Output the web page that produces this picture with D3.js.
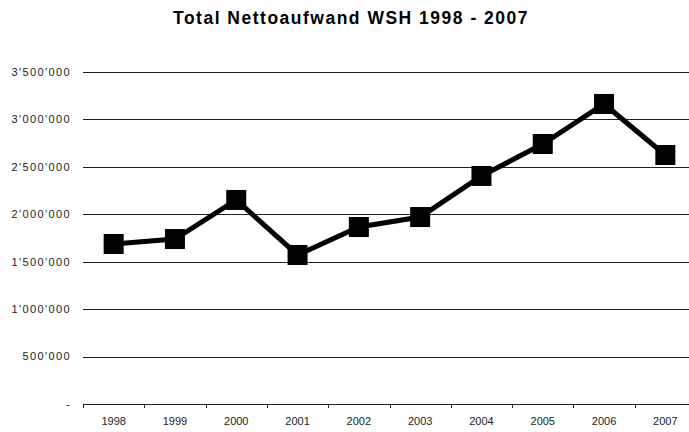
<!DOCTYPE html>
<html><head><meta charset="utf-8">
<script src="https://cdn.jsdelivr.net/npm/d3@7"></script>
<style>body{margin:0;background:#fff;} svg{display:block;font-family:"Liberation Sans",Arial,sans-serif;}</style>
</head><body>
<svg id="chart" width="689" height="432"></svg>
<script>
const years = ["1998","1999","2000","2001","2002","2003","2004","2005","2006","2007"];
const values = [1687000,1739000,2151000,1571000,1866000,1971000,2404000,2741000,3163000,2625000];
const yTicks = [0,500000,1000000,1500000,2000000,2500000,3000000,3500000];
const title = "Total Nettoaufwand WSH 1998 - 2007";

const svg = d3.select("#chart");
const m = {left:83, right:696, top:72, bottom:404};
const x = d3.scaleBand().domain(years).range([m.left, m.right]);
const y = d3.scaleLinear().domain([0,3500000]).range([m.bottom, m.top]);
const fmt = v => v === 0 ? "-" : d3.format(",")(v).replace(/,/g, "'");

svg.append("text").attr("x",351).attr("y",24).attr("text-anchor","middle")
  .attr("font-size",17.5).attr("font-weight","bold").attr("letter-spacing",1.5).text(title);

// gridlines
svg.append("g").selectAll("line").data(yTicks.filter(d=>d>0)).join("line")
  .attr("x1",m.left).attr("x2",689).attr("y1",d=>Math.round(y(d))+0.5).attr("y2",d=>Math.round(y(d))+0.5)
  .attr("stroke","#222").attr("stroke-width",1);

// y labels
svg.append("g").selectAll("text").data(yTicks).join("text")
  .attr("x",71).attr("y",d=>y(d)).attr("dy","0.35em").attr("text-anchor","end")
  .attr("font-size",11).attr("letter-spacing",1.4).attr("fill","#222").text(fmt);

// x axis
const xa = svg.append("g").attr("transform",`translate(0,${m.bottom})`)
  .call(d3.axisBottom(x).tickSize(0).tickSizeOuter(0));
xa.select(".domain").attr("stroke","#222");
xa.selectAll("text").attr("font-size",11).attr("fill","#222").attr("dy","1.65em")
  .attr("font-family","Liberation Sans, Arial, sans-serif");
// tick marks at band boundaries
svg.append("g").selectAll("line").data(years).join("line")
  .attr("x1",d=>Math.round(x(d))+0.5).attr("x2",d=>Math.round(x(d))+0.5)
  .attr("y1",m.bottom).attr("y2",m.bottom+4).attr("stroke","#222");

const cx = d => x(d) + x.bandwidth()/2;
const line = d3.line().x((d,i)=>cx(years[i])).y(d=>y(d));
svg.append("path").datum(values).attr("d",line).attr("fill","none")
  .attr("stroke","#000").attr("stroke-width",5).attr("stroke-linejoin","miter");

const s = 20;
svg.append("g").selectAll("rect").data(values).join("rect")
  .attr("x",(d,i)=>cx(years[i])-s/2).attr("y",d=>y(d)-s/2)
  .attr("width",s).attr("height",s).attr("fill","#000");
</script>
</body></html>
